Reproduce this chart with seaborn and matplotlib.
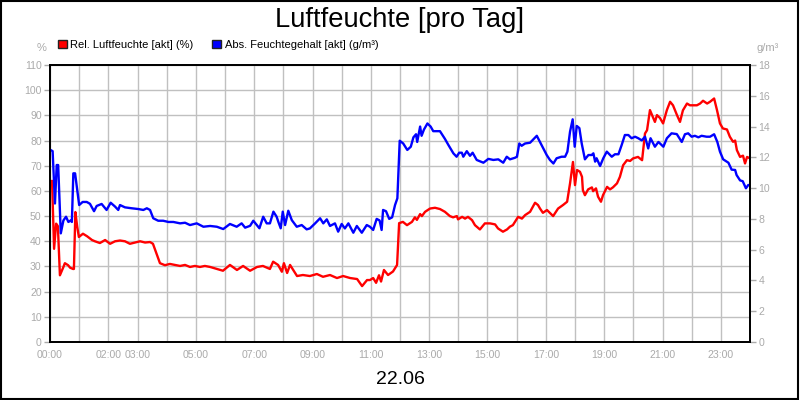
import matplotlib
matplotlib.use('Agg')
import matplotlib.pyplot as plt
import seaborn as sns
import pandas as pd
from matplotlib.patches import Patch, Rectangle

# relative humidity (%), left axis
red_hours = [0.00, 0.07, 0.14, 0.21, 0.27, 0.34, 0.45, 0.51, 0.62, 0.69, 0.79, 0.82, 0.87, 0.93, 0.99,
             1.13, 1.27, 1.44, 1.54, 1.71, 1.89, 2.06, 2.23, 2.40, 2.57, 2.74, 2.91, 3.09, 3.26, 3.43,
             3.53, 3.67, 3.77, 3.94, 4.11, 4.29, 4.46, 4.63, 4.80, 4.97, 5.14, 5.31, 5.49, 5.73, 5.93,
             6.17, 6.41, 6.62, 6.86, 7.10, 7.30, 7.54, 7.65, 7.82, 7.95, 8.02, 8.13, 8.23, 8.47, 8.67,
             8.91, 9.15, 9.36, 9.60, 9.84, 10.05, 10.29, 10.53, 10.70, 10.87, 10.97, 11.08, 11.18, 11.28,
             11.35, 11.45, 11.59, 11.76, 11.90, 11.97, 12.10, 12.24, 12.41, 12.51, 12.58, 12.69, 12.75,
             12.86, 13.03, 13.20, 13.37, 13.54, 13.71, 13.82, 13.95, 13.99, 14.13, 14.23, 14.33, 14.47,
             14.57, 14.74, 14.91, 15.09, 15.26, 15.36, 15.53, 15.67, 15.77, 15.87, 16.05, 16.18, 16.29,
             16.46, 16.63, 16.73, 16.80, 16.90, 17.04, 17.25, 17.42, 17.59, 17.73, 17.83, 17.93, 18.00,
             18.07, 18.17, 18.24, 18.27, 18.34, 18.45, 18.58, 18.62, 18.72, 18.79, 18.89, 18.96, 19.10,
             19.20, 19.30, 19.44, 19.54, 19.65, 19.78, 19.89, 19.99, 20.16, 20.30, 20.40, 20.47, 20.57,
             20.67, 20.74, 20.81, 20.91, 21.02, 21.15, 21.26, 21.36, 21.50, 21.60, 21.70, 21.84, 21.94,
             22.05, 22.18, 22.29, 22.39, 22.53, 22.63, 22.77, 22.87, 22.97, 23.07, 23.21, 23.31, 23.42,
             23.49, 23.55, 23.66, 23.76, 23.83, 23.90, 24.00]
red_values = [63.5, 64.0, 37.0, 47.0, 46.0, 26.5, 29.5, 31.3, 30.5, 29.5, 29.0, 29.0, 51.6, 46.0, 41.7,
              43.0, 42.0, 40.5, 40.0, 39.3, 40.5, 39.0, 40.0, 40.3, 40.0, 39.0, 39.5, 40.0, 39.5, 39.7,
              39.0, 34.5, 31.3, 30.5, 31.0, 30.6, 30.2, 30.6, 29.8, 30.2, 29.8, 30.2, 29.8, 29.0, 28.3,
              30.6, 28.6, 30.2, 28.3, 29.8, 30.2, 29.0, 31.9, 30.6, 27.9, 31.3, 27.4, 30.6, 26.2, 26.6,
              26.2, 27.0, 25.9, 26.6, 25.4, 26.2, 25.4, 25.0, 22.2, 24.6, 24.6, 25.4, 23.5, 26.5,
              24.0, 28.6, 26.6, 28.0, 30.6, 47.2, 47.7, 46.4, 47.7, 49.5, 48.5, 50.8, 50.0,
              51.7, 53.0, 53.3, 52.8, 51.7, 50.0, 49.5, 50.0, 48.7, 49.7, 49.0, 49.7, 48.4,
              46.4, 44.7, 47.1, 47.1, 46.7, 45.1, 43.8, 44.7, 45.8, 46.4, 49.7, 49.0, 50.4,
              51.7, 55.3, 54.4, 53.0, 51.3, 52.4, 50.0, 53.0, 54.4, 55.7, 63.0, 71.5, 62.3,
              68.3, 67.6, 65.6, 60.3, 58.3, 60.6, 61.4, 59.9, 61.0, 57.7, 55.7, 58.3, 61.6,
              60.6, 61.4, 63.0, 65.6, 70.2, 72.2, 71.9, 72.9, 73.5, 72.2, 82.8, 84.1, 92.1,
              89.4, 87.4, 90.1, 89.0, 86.8, 92.1, 95.4, 94.0, 90.0, 87.4, 92.0, 94.7, 94.0,
              94.0, 94.0, 94.7, 95.8, 94.7, 95.4, 96.7, 92.0, 86.8, 84.8, 84.4, 81.5, 79.5,
              80.0, 76.2, 73.5, 74.0, 70.9, 73.5, 72.9]

# absolute humidity (g/m3), right axis
blue_hours = [0.00, 0.09, 0.17, 0.23, 0.28, 0.37, 0.46, 0.55, 0.63, 0.71, 0.75, 0.80, 0.86, 0.92, 1.00,
              1.12, 1.26, 1.37, 1.51, 1.60, 1.77, 1.94, 2.08, 2.23, 2.34, 2.40, 2.57, 2.80, 3.03, 3.20,
              3.32, 3.43, 3.54, 3.71, 3.88, 4.06, 4.23, 4.46, 4.63, 4.80, 5.03, 5.26, 5.49, 5.72, 5.94,
              6.17, 6.40, 6.57, 6.69, 6.86, 6.97, 7.18, 7.31, 7.43, 7.54, 7.66, 7.77, 7.83, 7.91, 7.98,
              8.06, 8.17, 8.29, 8.46, 8.63, 8.80, 8.91, 9.09, 9.26, 9.37, 9.49, 9.60, 9.77, 9.88, 10.00,
              10.11, 10.23, 10.40, 10.52, 10.69, 10.86, 10.97, 11.08, 11.20, 11.30, 11.37, 11.42, 11.52,
              11.63, 11.73, 11.83, 11.91, 11.99, 12.11, 12.25, 12.37, 12.46, 12.55, 12.59, 12.69, 12.74,
              12.82, 12.94, 13.05, 13.14, 13.37, 13.54, 13.66, 13.83, 13.94, 14.03, 14.12, 14.17, 14.29,
              14.40, 14.49, 14.63, 14.86, 15.03, 15.20, 15.37, 15.54, 15.66, 15.77, 15.94, 16.01, 16.09,
              16.17, 16.29, 16.46, 16.57, 16.69, 16.80, 16.91, 17.03, 17.14, 17.26, 17.37, 17.54, 17.66,
              17.74, 17.83, 17.92, 17.99, 18.06, 18.15, 18.23, 18.34, 18.46, 18.57, 18.63, 18.69, 18.74,
              18.86, 18.97, 19.09, 19.26, 19.37, 19.49, 19.60, 19.71, 19.83, 19.94, 20.06, 20.17, 20.29,
              20.40, 20.51, 20.59, 20.74, 20.86, 21.03, 21.15, 21.31, 21.49, 21.66, 21.77, 21.88, 22.00,
              22.11, 22.23, 22.34, 22.51, 22.63, 22.77, 22.88, 22.97, 23.08, 23.26, 23.37, 23.49, 23.54,
              23.66, 23.75, 23.86, 23.94, 24.00]
blue_values = [12.5, 12.4, 9.0, 11.5, 11.5, 7.06, 7.9, 8.14, 7.8, 7.9, 7.8, 10.96, 10.96, 10.1, 8.9,
               9.1, 9.1, 8.98, 8.5, 8.84, 8.97, 8.58, 9.05, 8.8, 8.58, 8.9, 8.75, 8.69, 8.64, 8.58,
               8.69, 8.58, 8.04, 7.88, 7.88, 7.8, 7.8, 7.71, 7.75, 7.6, 7.71, 7.49, 7.54, 7.49, 7.34,
               7.67, 7.49, 7.71, 7.43, 7.55, 7.88, 7.39, 8.14, 7.71, 7.71, 8.47, 8.14, 7.8, 7.39, 8.47,
               7.6, 8.53, 7.92, 7.49, 7.6, 7.32, 7.38, 7.71, 8.04, 7.71, 7.97, 7.54, 7.71, 7.17, 7.67,
               7.38, 7.71, 7.1, 7.54, 7.1, 7.6, 7.49, 7.28, 8.0, 7.9, 7.28, 8.58,
               8.5, 8.0, 8.1, 8.9, 9.34, 13.08, 12.9, 12.48, 12.69, 13.3, 13.5, 13.0, 14.0, 13.4,
               13.8, 14.2, 14.0, 13.7, 13.7, 13.2, 12.8, 12.26, 12.04, 12.3, 12.3, 12.04, 12.4,
               12.1, 12.3, 11.83, 11.65, 11.9, 11.83, 11.87, 11.65, 12.04, 11.87, 11.97, 12.04, 12.9,
               12.75, 12.9, 12.95, 13.17, 13.4, 13.0, 12.6, 12.15, 11.83, 11.6, 11.94, 12.04, 12.04,
               12.37, 13.67, 14.47, 12.69, 14.04, 13.9, 12.9, 11.87, 12.15, 12.15, 12.26, 11.72, 11.94,
               11.44, 11.94, 12.37, 12.04, 12.2, 12.2, 12.8, 13.45, 13.45, 13.24, 13.34, 13.24, 13.1,
               13.34, 12.58, 13.24, 12.69, 13.0, 12.69, 13.24, 13.56, 13.51, 13.0, 13.5, 13.56, 13.34,
               13.4, 13.3, 13.4, 13.34, 13.34, 13.5, 13.0, 12.37, 11.87, 11.65, 11.2, 11.18, 10.85,
               10.5, 10.45, 9.99, 10.2, 10.2]

x_ticks = list(range(25))
x_labels = ['00:00', '', '02:00', '03:00', '', '05:00', '', '07:00', '', '09:00', '', '11:00', '',
            '13:00', '', '15:00', '', '17:00', '', '19:00', '', '21:00', '', '23:00', '']
left_ticks = list(range(0, 111, 10))
right_ticks = list(range(0, 19, 2))

df_red = pd.DataFrame({'hour': red_hours, 'value': red_values})
df_blue = pd.DataFrame({'hour': blue_hours, 'value': blue_values})

sns.set_style('white')
plt.rcParams['font.family'] = ['Liberation Sans', 'DejaVu Sans']
plt.rcParams['text.color'] = 'black'

grey = '#aaaaaa'
fig = plt.figure(figsize=(8, 4), dpi=100)
ax = fig.add_axes([0.0625, 0.145, 0.875, 0.6925])
ax2 = ax.twinx()

sns.lineplot(data=df_red, x='hour', y='value', ax=ax, color='#ff0000', lw=1.7, estimator=None)
sns.lineplot(data=df_blue, x='hour', y='value', ax=ax2, color='#0000ff', lw=1.7, estimator=None)

ax.set_xlim(0, 24)
ax.set_ylim(0, 110)
ax2.set_ylim(0, 18)
ax.set_xticks(x_ticks)
ax.set_xticklabels(x_labels)
ax.set_yticks(left_ticks)
ax2.set_yticks(right_ticks)
for a in (ax, ax2):
    a.set_xlabel('')
    a.set_ylabel('')
    a.tick_params(axis='both', colors=grey, labelsize=7.6, length=4, width=1, direction='out', pad=2)
    for s in a.spines.values():
        s.set_color('black')
        s.set_linewidth(1.3)
ax.grid(True, color='#c0c0c0', lw=1)
ax2.grid(False)

fig.text(0.5, 1 - 20 / 400, 'Luftfeuchte [pro Tag]', ha='center', va='center', fontsize=19.7, color='black')
fig.text(0.5, 1 - 379 / 400, '22.06', ha='center', va='center', fontsize=14, color='black')
fig.text(42 / 800, 1 - 48 / 400, '%', ha='center', va='center', fontsize=8, color=grey)
fig.text(768 / 800, 1 - 48 / 400, 'g/m³', ha='center', va='center', fontsize=8, color=grey)

handles = [Patch(facecolor='#ff0000', edgecolor='#222222'), Patch(facecolor='#0000ff', edgecolor='#222222')]
fig.legend(handles, ['Rel. Luftfeuchte [akt] (%)', 'Abs. Feuchtegehalt [akt] (g/m³)'],
           loc='center left', bbox_to_anchor=(48 / 800, 1 - 45 / 400), ncol=2, frameon=False,
           fontsize=8, handlelength=0.8, handleheight=0.8, handletextpad=0.3, columnspacing=1.7,
           labelcolor='black')

fig.add_artist(Rectangle((0.001, 0.002), 0.997, 0.996, transform=fig.transFigure,
                         fill=False, edgecolor='black', lw=1.5))

fig.savefig('out.png', dpi=100)
